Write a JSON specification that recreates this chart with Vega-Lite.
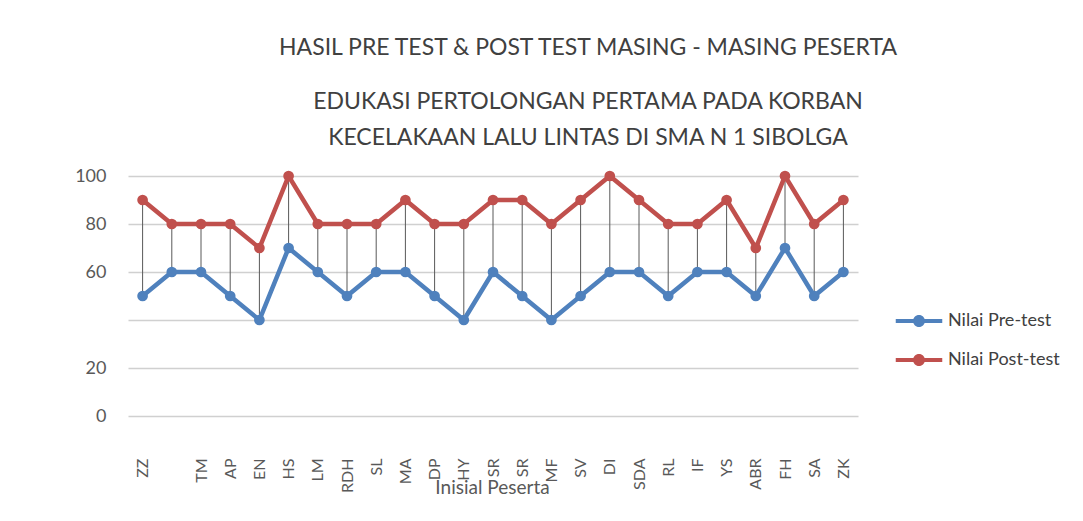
{
  "$schema": "https://vega.github.io/schema/vega-lite/v6.json",
  "width": 730,
  "height": 240,
  "autosize": {"type": "none"},
  "padding": {"left": 128, "top": 176, "right": 225, "bottom": 105},
  "background": "white",
  "config": {
    "font": "Lato",
    "view": {"stroke": null}
  },
  "title": {
    "text": "HASIL PRE TEST & POST TEST MASING - MASING PESERTA",
    "subtitle": ["EDUKASI PERTOLONGAN PERTAMA PADA KORBAN", "KECELAKAAN LALU LINTAS DI SMA N 1 SIBOLGA"],
    "anchor": "middle",
    "dx": 95,
    "offset": 17,
    "font": "Lato",
    "fontSize": 23,
    "fontWeight": "normal",
    "color": "#404040",
    "subtitleFont": "Lato",
    "subtitleFontSize": 23,
    "subtitleColor": "#404040",
    "subtitlePadding": 31,
    "subtitleLineHeight": 36
  },
  "data": {
    "values": [
      {"name": "ZZ", "Nilai Pre-test": 50, "Nilai Post-test": 90},
      {"name": " ", "Nilai Pre-test": 60, "Nilai Post-test": 80},
      {"name": "TM", "Nilai Pre-test": 60, "Nilai Post-test": 80},
      {"name": "AP", "Nilai Pre-test": 50, "Nilai Post-test": 80},
      {"name": "EN", "Nilai Pre-test": 40, "Nilai Post-test": 70},
      {"name": "HS", "Nilai Pre-test": 70, "Nilai Post-test": 100},
      {"name": "LM", "Nilai Pre-test": 60, "Nilai Post-test": 80},
      {"name": "RDH", "Nilai Pre-test": 50, "Nilai Post-test": 80},
      {"name": "SL", "Nilai Pre-test": 60, "Nilai Post-test": 80},
      {"name": "MA", "Nilai Pre-test": 60, "Nilai Post-test": 90},
      {"name": "DP", "Nilai Pre-test": 50, "Nilai Post-test": 80},
      {"name": "HY", "Nilai Pre-test": 40, "Nilai Post-test": 80},
      {"name": "SR", "Nilai Pre-test": 60, "Nilai Post-test": 90},
      {"name": "SR ", "Nilai Pre-test": 50, "Nilai Post-test": 90},
      {"name": "MF", "Nilai Pre-test": 40, "Nilai Post-test": 80},
      {"name": "SV", "Nilai Pre-test": 50, "Nilai Post-test": 90},
      {"name": "DI", "Nilai Pre-test": 60, "Nilai Post-test": 100},
      {"name": "SDA", "Nilai Pre-test": 60, "Nilai Post-test": 90},
      {"name": "RL", "Nilai Pre-test": 50, "Nilai Post-test": 80},
      {"name": "IF", "Nilai Pre-test": 60, "Nilai Post-test": 80},
      {"name": "YS", "Nilai Pre-test": 60, "Nilai Post-test": 90},
      {"name": "ABR", "Nilai Pre-test": 50, "Nilai Post-test": 70},
      {"name": "FH", "Nilai Pre-test": 70, "Nilai Post-test": 100},
      {"name": "SA", "Nilai Pre-test": 50, "Nilai Post-test": 80},
      {"name": "ZK", "Nilai Pre-test": 60, "Nilai Post-test": 90}
    ]
  },
  "encoding": {
    "x": {
      "field": "name",
      "type": "nominal",
      "sort": null,
      "scale": {"type": "point", "padding": 0.5},
      "axis": {
        "title": "Inisial Peserta",
        "titleFont": "Lato",
        "titleFontSize": 19,
        "titleFontWeight": "normal",
        "titleColor": "#595959",
        "titleX": 364,
        "titleY": 71,
        "titleBaseline": "middle",
        "labelAngle": -90,
        "labelPadding": 42,
        "labelFontSize": 16,
        "labelColor": "#595959",
        "ticks": false,
        "domain": false,
        "grid": false
      }
    }
  },
  "layer": [
    {
      "mark": {"type": "rule", "color": "#595959", "strokeWidth": 1},
      "encoding": {
        "y": {
          "field": "Nilai Pre-test",
          "type": "quantitative",
          "scale": {"domain": [0, 100]},
          "axis": {
            "title": null,
            "values": [0, 20, 40, 60, 80, 100],
            "labelExpr": "datum.value == 40 ? '' : datum.label",
            "labelFontSize": 18,
            "labelColor": "#595959",
            "labelPadding": 22,
            "ticks": false,
            "domain": false,
            "grid": true,
            "gridColor": "#d0d0d0",
            "gridWidth": 1.5
          }
        },
        "y2": {"field": "Nilai Post-test"}
      }
    },
    {
      "transform": [
        {"fold": ["Nilai Pre-test", "Nilai Post-test"], "as": ["series", "score"]}
      ],
      "layer": [
        {
          "mark": {"type": "line", "strokeWidth": 4.5},
          "encoding": {
            "y": {"field": "score", "type": "quantitative"},
            "color": {
              "field": "series",
              "type": "nominal",
              "scale": {
                "domain": ["Nilai Pre-test", "Nilai Post-test"],
                "range": ["#4F81BD", "#C0504D"]
              },
              "legend": {
                "title": null,
                "orient": "none",
                "legendX": 776,
                "legendY": 130,
                "padding": 0,
                "rowPadding": 15,
                "symbolSize": 900,
                "labelOffset": 14,
                "labelFontSize": 18,
                "labelColor": "#404040",
                "encode": {
                  "symbols": {
                    "update": {
                      "shape": {"value": "M-1.55,-0.13H1.55V0.13H-1.55Z M-0.4,0A0.4,0.4 0 1,1 0.4,0A0.4,0.4 0 1,1 -0.4,0Z"},
                      "fill": {"scale": "color", "field": "value"},
                      "fillOpacity": {"value": 1},
                      "strokeWidth": {"value": 0},
                      "size": {"value": 900}
                    }
                  }
                }
              }
            }
          }
        },
        {
          "mark": {"type": "point", "filled": true, "size": 115, "opacity": 1},
          "encoding": {
            "y": {"field": "score", "type": "quantitative"},
            "color": {"field": "series", "type": "nominal"}
          }
        }
      ]
    }
  ]
}
